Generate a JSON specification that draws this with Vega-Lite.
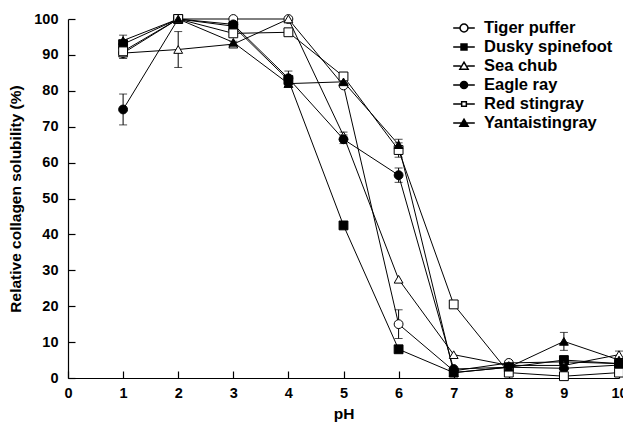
{
  "$schema": "https://vega.github.io/schema/vega-lite/v6.json",
  "autosize": {"type": "none"},
  "padding": {"left": 68, "top": 19, "right": 4, "bottom": 47},
  "width": 551,
  "height": 359,
  "background": "white",
  "config": {
    "view": {"stroke": null},
    "font": "Liberation Sans",
    "axis": {"grid": false, "domainColor": "black", "tickColor": "black", "labelColor": "black", "titleColor": "black", "labelFont": "Liberation Sans", "titleFont": "Liberation Sans", "labelFontWeight": "bold", "titleFontWeight": "bold", "labelFontSize": 14.5, "titleFontSize": 15.5, "domainWidth": 1.2, "tickWidth": 1.2}
  },
  "data": {"values": [
    {"pH": 1, "s": "Tiger puffer", "v": 90.5, "err": 1.5},
    {"pH": 2, "s": "Tiger puffer", "v": 100, "err": 0},
    {"pH": 3, "s": "Tiger puffer", "v": 100, "err": 0},
    {"pH": 4, "s": "Tiger puffer", "v": 100, "err": 0},
    {"pH": 5, "s": "Tiger puffer", "v": 81.5, "err": 0},
    {"pH": 6, "s": "Tiger puffer", "v": 15, "err": 4},
    {"pH": 7, "s": "Tiger puffer", "v": 2, "err": 0},
    {"pH": 8, "s": "Tiger puffer", "v": 4.2, "err": 0},
    {"pH": 9, "s": "Tiger puffer", "v": 4.5, "err": 0},
    {"pH": 10, "s": "Tiger puffer", "v": 4, "err": 0},
    {"pH": 1, "s": "Dusky spinefoot", "v": 93, "err": 1},
    {"pH": 2, "s": "Dusky spinefoot", "v": 100, "err": 0},
    {"pH": 3, "s": "Dusky spinefoot", "v": 98, "err": 1},
    {"pH": 4, "s": "Dusky spinefoot", "v": 83, "err": 0},
    {"pH": 5, "s": "Dusky spinefoot", "v": 42.5, "err": 0},
    {"pH": 6, "s": "Dusky spinefoot", "v": 8, "err": 0},
    {"pH": 7, "s": "Dusky spinefoot", "v": 1.5, "err": 0},
    {"pH": 8, "s": "Dusky spinefoot", "v": 3, "err": 0},
    {"pH": 9, "s": "Dusky spinefoot", "v": 5, "err": 0},
    {"pH": 10, "s": "Dusky spinefoot", "v": 4, "err": 0},
    {"pH": 1, "s": "Sea chub", "v": 90.5, "err": 0},
    {"pH": 2, "s": "Sea chub", "v": 91.5, "err": 5},
    {"pH": 3, "s": "Sea chub", "v": 93, "err": 0.8},
    {"pH": 4, "s": "Sea chub", "v": 100, "err": 0},
    {"pH": 5, "s": "Sea chub", "v": 67.5, "err": 1},
    {"pH": 6, "s": "Sea chub", "v": 27.5, "err": 0},
    {"pH": 7, "s": "Sea chub", "v": 6.5, "err": 0},
    {"pH": 8, "s": "Sea chub", "v": 3.5, "err": 0},
    {"pH": 9, "s": "Sea chub", "v": 3.5, "err": 0},
    {"pH": 10, "s": "Sea chub", "v": 6.5, "err": 1},
    {"pH": 1, "s": "Eagle ray", "v": 74.8, "err": 4.3},
    {"pH": 2, "s": "Eagle ray", "v": 100, "err": 0},
    {"pH": 3, "s": "Eagle ray", "v": 98.5, "err": 0},
    {"pH": 4, "s": "Eagle ray", "v": 83.5, "err": 2},
    {"pH": 5, "s": "Eagle ray", "v": 66.5, "err": 1.2},
    {"pH": 6, "s": "Eagle ray", "v": 56.5, "err": 2},
    {"pH": 7, "s": "Eagle ray", "v": 2.5, "err": 0},
    {"pH": 8, "s": "Eagle ray", "v": 3, "err": 0},
    {"pH": 9, "s": "Eagle ray", "v": 2.7, "err": 0},
    {"pH": 10, "s": "Eagle ray", "v": 3.6, "err": 0},
    {"pH": 1, "s": "Red stingray", "v": 91, "err": 0},
    {"pH": 2, "s": "Red stingray", "v": 100, "err": 0},
    {"pH": 3, "s": "Red stingray", "v": 96, "err": 0},
    {"pH": 4, "s": "Red stingray", "v": 96.3, "err": 0},
    {"pH": 5, "s": "Red stingray", "v": 84, "err": 0},
    {"pH": 6, "s": "Red stingray", "v": 63.5, "err": 2},
    {"pH": 7, "s": "Red stingray", "v": 20.5, "err": 0.8},
    {"pH": 8, "s": "Red stingray", "v": 1.5, "err": 0},
    {"pH": 9, "s": "Red stingray", "v": 0.5, "err": 0},
    {"pH": 10, "s": "Red stingray", "v": 1.5, "err": 0},
    {"pH": 1, "s": "Yantaistingray", "v": 94, "err": 1.5},
    {"pH": 2, "s": "Yantaistingray", "v": 100, "err": 0},
    {"pH": 3, "s": "Yantaistingray", "v": 93.5, "err": 0},
    {"pH": 4, "s": "Yantaistingray", "v": 82, "err": 0},
    {"pH": 5, "s": "Yantaistingray", "v": 82.5, "err": 0},
    {"pH": 6, "s": "Yantaistingray", "v": 65, "err": 1.5},
    {"pH": 7, "s": "Yantaistingray", "v": 1.5, "err": 0},
    {"pH": 8, "s": "Yantaistingray", "v": 3, "err": 0},
    {"pH": 9, "s": "Yantaistingray", "v": 10.2, "err": 2.5},
    {"pH": 10, "s": "Yantaistingray", "v": 5, "err": 0}
  ]},
  "encoding": {
    "x": {"field": "pH", "type": "quantitative", "scale": {"domain": [0, 10], "nice": false, "zero": true},
      "axis": {"title": "pH", "values": [0,1,2,3,4,5,6,7,8,9,10], "format": "d", "tickSize": -7, "labelPadding": 15, "titlePadding": 7, "labelFlush": false}},
    "y": {"field": "v", "type": "quantitative", "scale": {"domain": [0, 100], "nice": false},
      "axis": {"title": "Relative collagen solubility (%)", "values": [0,10,20,30,40,50,60,70,80,90,100], "tickSize": -7, "labelPadding": 17, "titlePadding": 10, "labelFlush": false}}
  },
  "resolve": {"scale": {"shape": "independent", "fill": "independent"}},
  "layer": [
    {
      "mark": {"type": "line", "color": "black", "strokeWidth": 1},
      "encoding": {"detail": {"field": "s"}}
    },
    {
      "transform": [{"filter": "datum.err > 0"}],
      "mark": {"type": "errorbar", "ticks": {"size": 8, "color": "black"}, "rule": {"color": "black", "strokeWidth": 1}},
      "encoding": {"yError": {"field": "err"}, "detail": {"field": "s"}}
    },
    {
      "mark": {"type": "point", "filled": false, "stroke": "black", "strokeWidth": 1, "opacity": 1, "size": 78},
      "encoding": {
        "shape": {"field": "s", "type": "nominal", "legend": null,
          "scale": {"domain": ["Tiger puffer", "Dusky spinefoot", "Sea chub", "Eagle ray", "Red stingray", "Yantaistingray"],
                    "range": ["circle", "square", "triangle-up", "circle", "square", "triangle-up"]}},
        "fill": {"field": "s", "type": "nominal", "legend": null,
          "scale": {"domain": ["Tiger puffer", "Dusky spinefoot", "Sea chub", "Eagle ray", "Red stingray", "Yantaistingray"],
                    "range": ["white", "black", "white", "black", "white", "black"]}}
      }
    },
    {
      "mark": {"type": "point", "filled": false, "stroke": "black", "opacity": 0},
      "encoding": {
        "shape": {"field": "s", "type": "nominal",
          "scale": {"domain": ["Tiger puffer", "Dusky spinefoot", "Sea chub", "Eagle ray", "Red stingray", "Yantaistingray"],
                    "range": [
                      "M-1.2,0H-0.44M0.44,0H1.2M-0.44,0A0.44,0.44,0,1,1,0.44,0A0.44,0.44,0,1,1,-0.44,0Z",
                      "M-1.2,0H1.2M-0.33,-0.33H0.33V0.33H-0.33ZM-0.23,-0.23H0.23V0.23H-0.23ZM-0.13,-0.13H0.13V0.13H-0.13ZM-0.04,-0.04H0.04V0.04H-0.04Z",
                      "M-1.2,0H-0.36M0.36,0H1.2M0,-0.42L0.46,0.36H-0.46Z",
                      "M-1.2,0H1.2M-0.4,0A0.4,0.4,0,1,1,0.4,0A0.4,0.4,0,1,1,-0.4,0ZM-0.3,0A0.3,0.3,0,1,1,0.3,0A0.3,0.3,0,1,1,-0.3,0ZM-0.2,0A0.2,0.2,0,1,1,0.2,0A0.2,0.2,0,1,1,-0.2,0ZM-0.1,0A0.1,0.1,0,1,1,0.1,0A0.1,0.1,0,1,1,-0.1,0Z",
                      "M-1.2,0H-0.26M0.26,0H1.2M-0.26,-0.26H0.26V0.26H-0.26Z",
                      "M-1.2,0H1.2M0,-0.42L0.46,0.36H-0.46ZM0,-0.29L0.345,0.295H-0.345ZM0,-0.16L0.23,0.23H-0.23ZM0,-0.03L0.115,0.165H-0.115Z"
                    ]},
          "legend": {"title": null, "orient": "none", "legendX": 386, "legendY": -1, "symbolSize": 324, "labelFont": "Liberation Sans", "labelFontWeight": "bold", "labelFontSize": 16.5, "labelColor": "black", "rowPadding": 0, "labelOffset": 10,
            "encode": {"symbols": {"update": {"opacity": {"value": 1}, "strokeOpacity": {"value": 1}, "fillOpacity": {"value": 1}, "stroke": {"value": "black"}, "strokeWidth": {"value": 1.3}, "size": {"value": 324}, "fill": {"value": "white"}}}}}}
      }
    }
  ]
}
